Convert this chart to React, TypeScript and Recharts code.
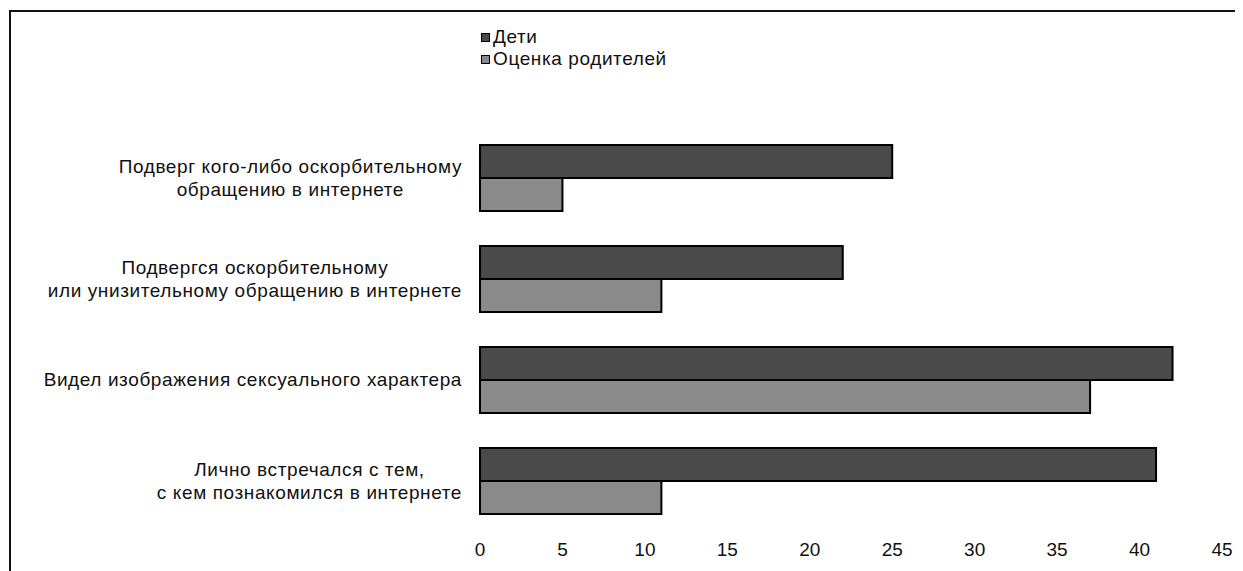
import React from 'react';
import { BarChart, Bar, XAxis, YAxis, Legend } from 'recharts';

const categories: string[] = [
  'Подверг кого-либо оскорбительному\nобращению в интернете',
  'Подвергся оскорбительному\nили унизительному обращению в интернете',
  'Видел изображения сексуального характера',
  'Лично встречался с тем,\nс кем познакомился в интернете',
];
const childrenValues: number[] = [25, 22, 42, 41];
const parentValues: number[] = [5, 11, 37, 11];
const xTicks: number[] = [0, 5, 10, 15, 20, 25, 30, 35, 40, 45];
const seriesNames = { children: 'Дети', parents: 'Оценка родителей' };

const data = categories.map((name, i) => ({
  name,
  children: childrenValues[i],
  parents: parentValues[i],
}));

const FONT = '"Liberation Sans", Arial, sans-serif';
const LABEL_SIZE = 19;
const SPACING = 0.6;
const DARK = '#4a4a4a';
const LIGHT = '#8a8a8a';

let ctx: CanvasRenderingContext2D | null = null;
function measure(text: string): number {
  if (!ctx) {
    const c = document.createElement('canvas');
    ctx = c.getContext('2d');
  }
  if (!ctx) return text.length * 10;
  ctx.font = `${LABEL_SIZE}px ${FONT}`;
  return ctx.measureText(text).width + text.length * SPACING;
}

const CategoryTick = (props: any) => {
  const { x, y, payload } = props;
  const lines: string[] = String(payload.value).split('\n');
  const w = Math.max(...lines.map(measure));
  const cx = x - w / 2;
  const lh = 23;
  return (
    <text
      x={cx}
      y={y}
      textAnchor="middle"
      fill="#111"
      fontSize={LABEL_SIZE}
      fontFamily={FONT}
      letterSpacing={SPACING}
    >
      {lines.map((l, i) => (
        <tspan key={i} x={cx} y={y + (i - (lines.length - 1) / 2) * lh} dy="0.35em">
          {l}
        </tspan>
      ))}
    </text>
  );
};

const LegendContent = () => (
  <div
    style={{
      fontFamily: FONT,
      fontSize: LABEL_SIZE,
      letterSpacing: SPACING,
      color: '#111',
      lineHeight: '22px',
    }}
  >
    {[
      { name: seriesNames.children, color: DARK },
      { name: seriesNames.parents, color: LIGHT },
    ].map((it) => (
      <div key={it.name} style={{ display: 'flex', alignItems: 'center' }}>
        <span
          style={{
            display: 'inline-block',
            width: 7,
            height: 7,
            background: it.color,
            border: '1px solid #000',
            marginRight: 3,
          }}
        />
        <span>{it.name}</span>
      </div>
    ))}
  </div>
);

export default function App() {
  return (
    <div style={{ position: 'relative', width: 1235, height: 563 }}>
      <div
        style={{
          position: 'absolute',
          left: 1,
          top: 2,
          right: -8,
          bottom: -8,
          borderLeft: '2px solid #111',
          borderTop: '2px solid #111',
          pointerEvents: 'none',
        }}
      />
      <BarChart
        width={1235}
        height={563}
        data={data}
        layout="vertical"
        margin={{ top: 119, right: 21, bottom: 0, left: 0 }}
        barGap={0}
        barSize={33}
      >
        <XAxis
          type="number"
          domain={[0, 45]}
          ticks={xTicks}
          axisLine={false}
          tickLine={false}
          tickSize={0}
          tickMargin={12}
          height={40}
          tick={{ fill: '#111', fontSize: LABEL_SIZE, fontFamily: FONT }}
          interval={0}
        />
        <YAxis
          type="category"
          dataKey="name"
          width={472}
          axisLine={false}
          tickLine={false}
          tickSize={0}
          tickMargin={18}
          tick={<CategoryTick />}
          interval={0}
        />
        <Legend
          layout="vertical"
          verticalAlign="middle"
          align="center"
          content={<LegendContent />}
          wrapperStyle={{ top: 18, left: 473, width: 300, height: 46 }}
        />
        <Bar
          dataKey="children"
          name={seriesNames.children}
          fill={DARK}
          stroke="#000"
          strokeWidth={2}
          isAnimationActive={false}
        />
        <Bar
          dataKey="parents"
          name={seriesNames.parents}
          fill={LIGHT}
          stroke="#000"
          strokeWidth={2}
          isAnimationActive={false}
        />
      </BarChart>
    </div>
  );
}
